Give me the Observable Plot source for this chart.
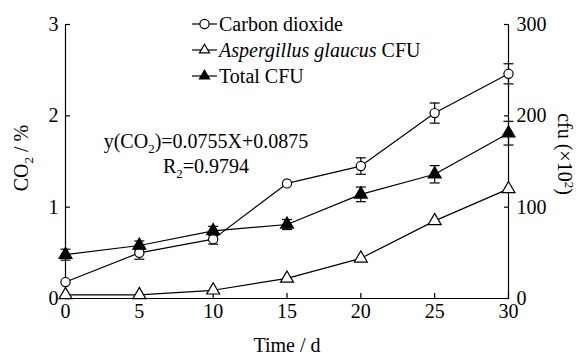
<!DOCTYPE html>
<html><head><meta charset="utf-8">
<script src="https://cdn.jsdelivr.net/npm/d3@7"></script>
<script src="https://cdn.jsdelivr.net/npm/@observablehq/plot@0.6"></script>
<style>
body{margin:0;background:#fff}
#chart{position:relative;width:579px;height:356px}
#chart svg text, #chart svg tspan{font-family:'Liberation Serif','Times New Roman',Times,serif !important;}
#chart svg{font-size:20px}
</style>
</head><body><div id="chart"></div>
<script>
// ---- data ----
const days = [0, 5, 10, 15, 20, 25, 30];
const co2 = [0.18, 0.50, 0.65, 1.26, 1.45, 2.03, 2.46];          // CO2 / %
const co2Err = [0, 0.07, 0.055, 0, 0.09, 0.11, 0.11];
const totalCfu = [48, 58, 74, 81, 114, 136, 181];                  // cfu (x10^2)
const totalCfuErr = [6, 5, 5, 5.5, 8, 9.5, 13];
const aspCfu = [4, 4, 9, 22, 44, 85, 120];                         // cfu (x10^2)
const xTicks = [0, 5, 10, 15, 20, 25, 30];
const leftTicks = [0, 1, 2, 3];
const rightTicks = [0, 100, 200, 300];
const cfuPerCo2Unit = 100; // right axis 0-300 aligned with left axis 0-3
const legendLabels = ["Carbon dioxide", "Aspergillus glaucus CFU", "Total CFU"];

// ---- table ----
const rows = [];
days.forEach((d, i) => {
  rows.push({series: "co2", x: d, y: co2[i], err: co2Err[i]});
  rows.push({series: "total", x: d, y: totalCfu[i] / cfuPerCo2Unit, err: totalCfuErr[i] / cfuPerCo2Unit});
  rows.push({series: "asp", x: d, y: aspCfu[i] / cfuPerCo2Unit, err: 0});
});
const errRows = rows.filter(r => r.err > 0).map(r => ({...r, lo: r.y - r.err, hi: r.y + r.err}));

const capSymbol = {draw(ctx) { ctx.moveTo(-5, 0); ctx.lineTo(5, 0); }};
const font = "'Liberation Serif', 'Times New Roman', Times, serif";

const svg = Plot.plot({
  width: 579,
  height: 356,
  marginLeft: 65,
  marginRight: 71,
  marginTop: 24,
  marginBottom: 58,
  style: {fontFamily: font, fontSize: "20px", background: "white", color: "black"},
  x: {domain: [0, 30]},
  y: {domain: [0, 3]},
  marks: [
    Plot.ruleY([leftTicks[0]], {stroke: "black", strokeWidth: 1.2}),
    Plot.ruleX([xTicks[0], xTicks[xTicks.length - 1]], {stroke: "black", strokeWidth: 1.2}),
    Plot.axisX(xTicks, {tickSize: -5, tickPadding: 10, label: null, strokeWidth: 1.2, fontSize: 20, tickFormat: d => String(d)}),
    Plot.axisY(leftTicks, {anchor: "left", tickSize: -5, tickPadding: 12, label: null, strokeWidth: 1.2, fontSize: 20, tickFormat: d => String(d)}),
    Plot.axisY(rightTicks.map(v => v / cfuPerCo2Unit), {anchor: "right", tickSize: -5, tickPadding: 13, label: null, fontSize: 20,
      tickFormat: d => String(Math.round(d * cfuPerCo2Unit)), strokeWidth: 1.2}),
    Plot.line(rows, {x: "x", y: "y", z: "series", stroke: "black", strokeWidth: 1.2}),
    Plot.ruleX(errRows, {x: "x", y1: "lo", y2: "hi", stroke: "black", strokeWidth: 1.2}),
    Plot.dot(errRows, {x: "x", y: "hi", symbol: capSymbol, r: 3, stroke: "black", strokeWidth: 1.2, fill: "none"}),
    Plot.dot(errRows, {x: "x", y: "lo", symbol: capSymbol, r: 3, stroke: "black", strokeWidth: 1.2, fill: "none"}),
    Plot.dot(rows.filter(r => r.series === "co2"), {x: "x", y: "y", symbol: "circle", r: 4.6, fill: "white", stroke: "black", strokeWidth: 1.2}),
    Plot.dot(rows.filter(r => r.series === "asp"), {x: "x", y: "y", symbol: "triangle", r: 4.8, fill: "white", stroke: "black", strokeWidth: 1.2}),
    Plot.dot(rows.filter(r => r.series === "total"), {x: "x", y: "y", symbol: "triangle", r: 4.8, fill: "black", stroke: "black", strokeWidth: 1.2})
  ]
});
document.getElementById("chart").appendChild(svg);

// ---- annotations, axis titles and legend ----
const s = d3.select(svg);
const g = s.append("g").attr("font-family", font).attr("font-size", 20).attr("font-weight", "normal").attr("fill", "black");

// legend
const legendSymbols = [
  {type: d3.symbolCircle, size: Math.PI * 4.6 * 4.6, fill: "white"},
  {type: d3.symbolTriangle2, size: Math.PI * 4.8 * 4.8, fill: "white"},
  {type: d3.symbolTriangle2, size: Math.PI * 4.8 * 4.8, fill: "black"}
];
legendLabels.forEach((lab, i) => {
  const cy = 24 + i * 26;
  g.append("line").attr("x1", 192).attr("x2", 217).attr("y1", cy).attr("y2", cy)
    .attr("stroke", "black").attr("stroke-width", 1.2);
  g.append("path").attr("d", d3.symbol(legendSymbols[i].type, legendSymbols[i].size)())
    .attr("transform", `translate(204.5,${cy})`).attr("fill", legendSymbols[i].fill)
    .attr("stroke", "black").attr("stroke-width", 1.2);
  const t = g.append("text").attr("x", 219).attr("y", cy).attr("dy", "0.35em").attr("text-anchor", "start");
  if (i === 1) {
    t.append("tspan").attr("font-style", "italic").text("Aspergillus glaucus");
    t.append("tspan").text(" CFU");
  } else t.text(lab);
});

// regression equation
const eq = g.append("text").attr("x", 206).attr("y", 148).attr("text-anchor", "middle");
eq.append("tspan").text("y(CO");
eq.append("tspan").attr("font-size", 13).attr("dy", 5).text("2");
eq.append("tspan").attr("dy", -5).text(")=0.0755X+0.0875");
const r2 = g.append("text").attr("x", 206).attr("y", 173).attr("text-anchor", "middle");
r2.append("tspan").text("R");
r2.append("tspan").attr("font-size", 13).attr("dy", 5).text("2");
r2.append("tspan").attr("dy", -5).text("=0.9794");

// axis titles
const yl = g.append("text").attr("transform", "translate(28,158) rotate(-90)").attr("text-anchor", "middle");
yl.append("tspan").text("CO");
yl.append("tspan").attr("font-size", 13).attr("dy", 5).text("2");
yl.append("tspan").attr("dy", -5).text(" / %");

const yr = g.append("text").attr("transform", "translate(558,154) rotate(90)").attr("text-anchor", "middle");
yr.append("tspan").text("cfu (×10");
yr.append("tspan").attr("font-size", 13).attr("dy", -7).text("2");
yr.append("tspan").attr("dy", 7).text(")");

g.append("text").attr("x", 287).attr("y", 352).attr("text-anchor", "middle").text("Time / d");
</script>
</body></html>
